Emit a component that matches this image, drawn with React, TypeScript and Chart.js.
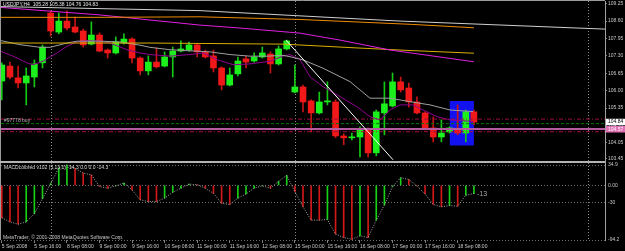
import React, { useEffect, useRef } from 'react';
import { Chart, registerables } from 'chart.js';

Chart.register(...registerables);

const FONT = "'Liberation Sans', Arial, sans-serif";

// ---- Candles (USDJPY H4, index 0 = 5 Sep 2008 00:00) ----
const candleOpen = [106.36,106.92,106.48,106.29,106.51,107.04,108.90,108.19,108.60,108.38,108.23,107.74,108.08,107.52,107.41,107.78,107.93,107.22,106.74,107.07,106.92,107.26,107.48,107.52,107.71,107.45,107.30,106.85,106.21,106.63,107.19,107.11,107.26,107.37,107.00,107.56,105.95,106.14,105.62,105.17,105.58,105.58,104.31,104.24,104.27,104.54,103.68,105.17,105.43,106.33,106.10,105.58,105.17,104.61,104.27,104.46,104.57,104.42,105.21];
const candleHigh = [107.04,107.07,106.92,106.85,107.15,107.71,108.98,108.90,108.98,108.75,108.30,108.57,108.16,107.56,108.01,108.12,107.97,107.26,107.30,107.60,107.45,107.63,107.86,107.82,107.74,107.52,107.52,106.89,106.85,107.26,107.30,107.41,107.63,107.45,107.67,107.89,106.96,106.21,105.66,105.95,106.33,105.66,104.39,104.42,104.65,104.61,105.28,106.33,106.66,106.51,106.29,105.77,105.21,105.02,104.91,104.65,105.47,105.28,105.28];
const candleLow = [105.66,106.44,106.10,105.47,106.14,106.85,108.04,108.12,108.27,108.16,107.63,107.71,107.45,107.22,107.37,107.74,107.04,106.59,106.59,106.85,106.89,106.51,107.45,107.48,107.26,107.22,106.70,106.03,106.18,106.55,106.85,107.07,107.22,106.66,106.96,107.52,105.92,105.21,104.46,105.13,105.47,104.24,103.98,104.16,103.53,103.53,103.57,104.35,105.39,105.95,105.39,105.13,104.54,104.09,104.09,104.42,104.35,104.09,104.72];
const candleClose = [106.96,106.51,106.29,106.55,107.00,107.63,108.23,108.60,108.34,108.19,107.71,108.08,107.48,107.41,107.82,107.93,107.22,106.74,107.07,106.89,107.26,107.48,107.56,107.71,107.45,107.26,106.85,106.21,106.59,107.11,107.07,107.26,107.41,107.00,107.56,107.86,106.14,105.58,105.17,105.58,105.62,104.31,104.24,104.27,104.54,103.68,105.21,105.51,106.33,106.03,105.58,105.17,104.61,104.27,104.42,104.61,104.42,105.21,104.83];

// ---- Moving averages / trend lines (bar index, price) ----
const maGreyIdx = [-0.12,2.23,4.69,5.92,8.01,9.24,12.06,14.52,16.98,18.2,20.66,23.12,25.58,28.03,30.49,32.58,34.54,35.4,37.0,39.46,42.77,45.23,47.69,50.15,52.6,55.06,57.89];
const maGreyPrice = [107.87,107.72,107.62,107.62,107.78,107.85,107.85,107.82,107.70,107.62,107.53,107.49,107.45,107.35,107.29,107.29,107.32,107.27,107.15,106.84,106.34,105.72,105.72,105.59,105.47,105.28,105.22];
const maPurpleIdx = [-0.12,1.37,3.09,3.83,5.06,6.78,8.01,9.24,10.47,12.06,13.29,15.38,16.98,18.2,20.66,23.12,24.72,26.44,28.4,30.49,32.95,34.54,35.4,36.63,37.86,39.46,41.55,43.63,45.23,46.46,47.69,48.92,50.51,51.74,53.46,55.06,57.89];
const maPurplePrice = [107.47,107.29,107.04,106.97,107.10,107.41,107.66,107.82,107.87,107.85,107.78,107.53,107.41,107.35,107.29,107.35,107.41,107.16,106.97,107.00,107.10,107.29,107.35,107.16,106.52,106.15,105.78,105.40,105.03,104.91,105.28,105.47,105.47,105.28,105.03,104.91,104.85];
const maGoldIdx = [-0.12,18.2,34.54,42.77,50.15,58.0];
const maGoldPrice = [107.78,107.78,107.74,107.61,107.50,107.40];
const maOrangeIdx = [-0.12,12.06,24.35,36.63,50.15,58.0];
const maOrangePrice = [108.74,108.74,108.76,108.66,108.48,108.35];
const maMagentaIdx = [-0.12,12.06,24.35,29.26,36.63,41.55,47.69,58.0];
const maMagentaPrice = [109.11,108.83,108.45,108.34,108.15,107.89,107.52,107.08];
const topLineIdx = [-0.12,24.35,48.92,74.1];
const topLinePrice = [109.14,108.99,108.60,108.30];
const diagIdx = [34.91,48.06];
const diagPrice = [107.89,103.42];

// ---- Horizontal order lines ----
const levelSlHigh = 104.94;
const levelOrder = 104.77;
const levelPink = 104.57;
const levelSlLow = 104.47;
const bidPrice = 104.84;

// ---- Rectangle object ----
const boxIdx = [55.0, 58.0];
const boxPrice = [105.62, 103.95];

// ---- MACD colored (5,13,1) ----
const macdValues = [-56,-63,-67,-63,-49,-23,3,30,34.9,29,21,18,-2,-5,-1,4,-8,-25,-28,-28,-22,-12,-5,2,1,-5,-14,-31,-33,-22,-15,-5,-1,-5,7,17,-11,-37,-60,-60,-59,-84,-90,-93,-87,-90,-60,-34,-2,13,10,-1,-15,-33,-37,-35,-36,-17,-14.3];
const macdDir = ('ddduuuuuud' + 'dddduudddd' + 'uuuudddddu' + 'uuuduudddd' + 'uddduduuuu' + 'ddddduduu').split('');

// ---- Axes ----
const xTickIdx = [0,4,8,12,16,20,24,28,32,36,40,44,48,52,56];
const xTickLabels = ['5 Sep 2008','5 Sep 16:00','8 Sep 08:00','9 Sep 00:00','9 Sep 16:00','10 Sep 08:00','11 Sep 00:00','11 Sep 16:00','12 Sep 08:00','15 Sep 00:00','15 Sep 16:00','16 Sep 08:00','17 Sep 00:00','17 Sep 16:00','18 Sep 08:00'];
const separatorIdx = [6, 36, 72];
const priceTicks = [109.25,108.60,107.95,107.30,106.65,106.00,105.35,104.70,104.05,103.45];
const macdTicks = [34.9,15,0,-15,-30,-45,-94.2];
const macdTickLabels = ['34.9','15','0.00','-15','-30','-45','-94.2'];

const legendText = 'USDJPY,H4  105.28 105.38 104.76 104.83';
const orderText = '#97778 buy';
const macdTitle = 'MACDcolored v102 (5,13,1) -14.3 0.0 0.0 -14.3';
const copyrightText = 'MetaTrader, \u00A9 2001-2008 MetaQuotes Software Corp.';

const lineDs = (xs: number[], ys: number[], color: string, width: number, dash: number[], order: number, yAxisID = 'y') => ({
  type: 'line' as const,
  data: xs.map((x, i) => ({ x, y: ys[i] })),
  borderColor: color,
  borderWidth: width,
  borderDash: dash,
  pointRadius: 0,
  tension: 0,
  fill: false,
  order,
  yAxisID,
});

const mtPlugin = {
  id: 'mtDecor',
  beforeDraw(chart: any) {
    const { ctx, width, height } = chart;
    ctx.save();
    ctx.fillStyle = '#000';
    ctx.fillRect(0, 0, width, height);
    ctx.restore();
  },
  beforeDatasetsDraw(chart: any) {
    const { ctx, chartArea, scales } = chart;
    ctx.save();
    ctx.strokeStyle = '#8c8c8c';
    ctx.lineWidth = 1;
    ctx.setLineDash([1, 2]);
    separatorIdx.forEach((v) => {
      const x = Math.round(scales.x.getPixelForValue(v)) + 0.5;
      ctx.beginPath();
      ctx.moveTo(x, chartArea.top);
      ctx.lineTo(x, chartArea.bottom);
      ctx.stroke();
    });
    ctx.restore();
  },
  afterDraw(chart: any) {
    const { ctx, chartArea, scales } = chart;
    ctx.save();
    // frame
    ctx.strokeStyle = '#9a9a9a';
    ctx.lineWidth = 1;
    ctx.beginPath();
    ctx.moveTo(0, 0.5);
    ctx.lineTo(chartArea.right, 0.5);
    ctx.moveTo(0.5, 0);
    ctx.lineTo(0.5, chartArea.bottom);
    ctx.stroke();
    // pane separator
    ctx.fillStyle = '#b4b4b4';
    ctx.fillRect(0, scales.y.bottom - 2, chartArea.right, 2);

    // texts
    ctx.textBaseline = 'middle';
    ctx.textAlign = 'left';
    ctx.font = `5px ${FONT}`;
    ctx.fillStyle = '#e8e8e8';
    ctx.fillText(legendText, 3, 5);
    ctx.fillStyle = '#b8b8b8';
    ctx.fillText(orderText, 4, 121);
    ctx.fillStyle = '#d8d8d8';
    ctx.fillText(macdTitle, 4, 167.5);
    ctx.fillStyle = '#c8c8c8';
    ctx.fillText(copyrightText, 3, 237.5);

    ctx.font = `7px ${FONT}`;
    ctx.fillStyle = '#a8a8a8';
    const lx = scales.x.getPixelForValue(58) + 3;
    const ly = scales.y2.getPixelForValue(macdValues[58]);
    ctx.fillText('-13', lx, ly);

    // price labels on the axis
    ctx.font = `5px ${FONT}`;
    const boxes = [
      { v: bidPrice, bg: '#ffffff', fg: '#000000' },
      { v: levelPink, bg: '#e070b4', fg: '#ffffff' },
    ];
    boxes.forEach((b) => {
      const y = scales.y.getPixelForValue(b.v);
      ctx.fillStyle = b.bg;
      ctx.fillRect(chartArea.right + 1, y - 3, 19, 6.5);
      ctx.fillStyle = b.fg;
      ctx.fillText(b.v.toFixed(2), chartArea.right + 3, y + 0.3);
    });
    ctx.restore();
  },
};

export default function App() {
  const ref = useRef<HTMLCanvasElement | null>(null);

  useEffect(() => {
    if (!ref.current) return;
    const idx = candleOpen.map((_, i) => i);
    const isUp = idx.map((i) => candleClose[i] >= candleOpen[i]);
    const chart = new Chart(ref.current, {
      type: 'bar',
      data: {
        datasets: [
          // blue rectangle (top edge fills to bottom edge)
          {
            type: 'line',
            data: boxIdx.map((x) => ({ x, y: boxPrice[0] })),
            borderWidth: 0,
            borderColor: 'rgba(0,0,0,0)',
            backgroundColor: '#1212f0',
            pointRadius: 0,
            fill: '+1',
            order: 20,
            yAxisID: 'y',
          } as any,
          {
            type: 'line',
            data: boxIdx.map((x) => ({ x, y: boxPrice[1] })),
            borderWidth: 0,
            borderColor: 'rgba(0,0,0,0)',
            pointRadius: 0,
            fill: false,
            order: 19,
            yAxisID: 'y',
          } as any,
          // wicks
          {
            type: 'bar',
            data: idx.map((i) => ({ x: i, y: [candleLow[i], candleHigh[i]] })),
            backgroundColor: idx.map((i) => (isUp[i] ? '#14c814' : '#c81414')),
            barThickness: 1,
            grouped: false,
            borderWidth: 0,
            order: 6,
            yAxisID: 'y',
          } as any,
          // bodies
          {
            type: 'bar',
            data: idx.map((i) => ({ x: i, y: [candleOpen[i], candleClose[i]] })),
            backgroundColor: idx.map((i) => (isUp[i] ? '#1cf01c' : '#f01818')),
            barThickness: 6,
            minBarLength: 1,
            grouped: false,
            borderWidth: 0,
            order: 5,
            yAxisID: 'y',
          } as any,
          lineDs(topLineIdx, topLinePrice, '#cfcfcf', 1, [], 3),
          lineDs(maOrangeIdx, maOrangePrice, '#f08c00', 1, [], 3),
          lineDs(maMagentaIdx, maMagentaPrice, '#e020e0', 1, [], 3),
          lineDs(maGoldIdx, maGoldPrice, '#d8b000', 1, [], 3),
          lineDs(maGreyIdx, maGreyPrice, '#a0a0a0', 1, [], 3),
          lineDs(maPurpleIdx, maPurplePrice, '#900090', 1, [], 3),
          lineDs([-0.1, 74.1], [levelSlHigh, levelSlHigh], '#a01040', 1, [4, 2, 1, 2], 2),
          lineDs([-0.1, 74.1], [levelOrder, levelOrder], '#007800', 1, [3, 2], 2),
          lineDs([-0.1, 74.1], [levelPink, levelPink], '#b45aa0', 2, [], 2),
          lineDs([-0.1, 74.1], [levelSlLow, levelSlLow], '#a01040', 1, [4, 2, 1, 2], 2),
          lineDs(diagIdx, diagPrice, '#ffffff', 1, [], 1),
          // MACD histogram
          {
            type: 'bar',
            data: idx.map((i) => ({ x: i, y: macdValues[i] })),
            backgroundColor: idx.map((i) => (macdDir[i] === 'u' ? '#18d218' : '#d21818')),
            barThickness: 1,
            grouped: false,
            borderWidth: 0,
            order: 4,
            yAxisID: 'y2',
          } as any,
          lineDs(idx, macdValues, '#a8a8a8', 1, [1, 1.5], 2, 'y2'),
        ],
      },
      options: {
        animation: false,
        responsive: false,
        maintainAspectRatio: false,
        layout: { padding: { left: 1, top: 1, right: 0, bottom: 0 } },
        plugins: { legend: { display: false }, tooltip: { enabled: false } },
        scales: {
          x: {
            type: 'linear',
            min: -0.1,
            max: 74.1,
            offset: false,
            position: 'bottom',
            afterFit: (s: any) => {
              s.height = 11;
              s.paddingLeft = 0;
              s.paddingRight = 0;
            },
            afterBuildTicks: (s: any) => {
              s.ticks = xTickIdx.map((v) => ({ value: v }));
            },
            ticks: {
              align: 'start',
              autoSkip: false,
              maxRotation: 0,
              minRotation: 0,
              padding: 1,
              color: '#c8c8c8',
              font: { size: 5, family: FONT },
              callback: (v: any) => {
                const k = xTickIdx.indexOf(Number(v));
                return k >= 0 ? xTickLabels[k] : '';
              },
            },
            grid: { offset: false, drawOnChartArea: false, drawTicks: true, tickLength: 3, color: '#808080' },
            border: { display: false },
          },
          y: {
            type: 'linear',
            position: 'right',
            stack: 'panes',
            stackWeight: 162,
            min: 103.3,
            max: 109.35,
            beginAtZero: false,
            afterFit: (s: any) => {
              s.width = 20;
              s.paddingTop = 0;
              s.paddingBottom = 0;
            },
            afterBuildTicks: (s: any) => {
              s.ticks = priceTicks.map((v) => ({ value: v }));
            },
            ticks: {
              padding: 1,
              color: '#c8c8c8',
              font: { size: 5, family: FONT },
              callback: (v: any) => Number(v).toFixed(2),
            },
            grid: { drawOnChartArea: false, drawTicks: true, tickLength: 2, color: '#808080' },
            border: { display: true, color: '#a0a0a0' },
          },
          y2: {
            type: 'linear',
            position: 'right',
            stack: 'panes',
            stackWeight: 77,
            min: -94.2,
            max: 38.4,
            beginAtZero: false,
            afterFit: (s: any) => {
              s.width = 20;
              s.paddingTop = 0;
              s.paddingBottom = 0;
            },
            afterBuildTicks: (s: any) => {
              s.ticks = macdTicks.map((v) => ({ value: v }));
            },
            ticks: {
              padding: 3,
              color: '#c8c8c8',
              font: { size: 5, family: FONT },
              callback: (v: any) => {
                const k = macdTicks.indexOf(Number(v));
                return k >= 0 ? macdTickLabels[k] : '';
              },
            },
            grid: { drawOnChartArea: true, drawTicks: false, color: '#707070' },
            border: { display: true, color: '#a0a0a0', dash: [1, 2] },
          },
        },
      } as any,
      plugins: [mtPlugin],
    });
    return () => chart.destroy();
  }, []);

  return (
    <div style={{ position: 'fixed', left: 0, top: 0, width: 625, height: 251, background: '#000' }}>
      <canvas ref={ref} width={625} height={251} style={{ display: 'block', width: 625, height: 251 }} />
    </div>
  );
}
